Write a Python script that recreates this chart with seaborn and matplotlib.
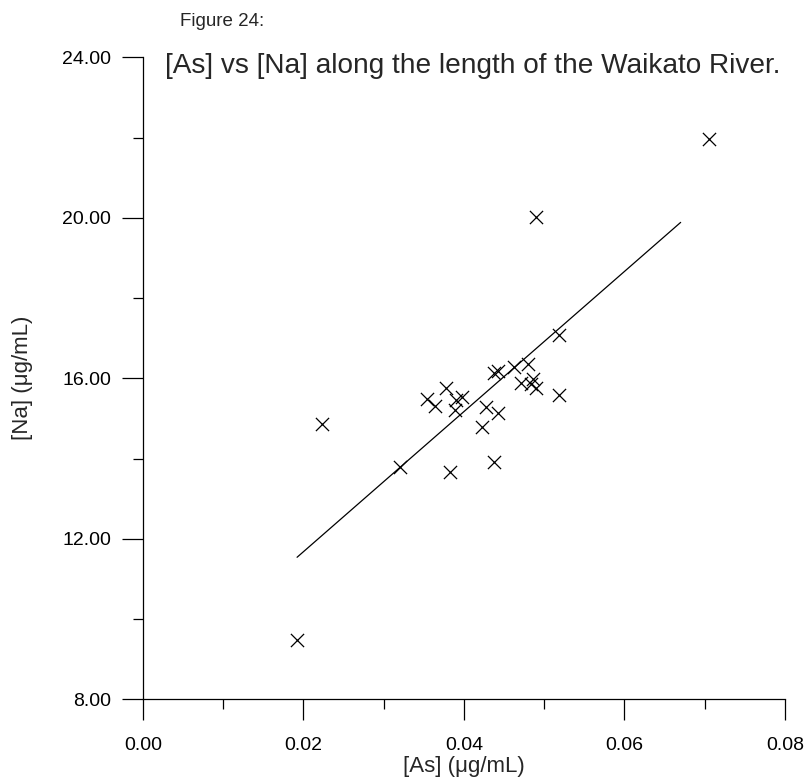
import matplotlib
matplotlib.use("Agg")
import matplotlib.pyplot as plt
from matplotlib.ticker import MultipleLocator, FormatStrFormatter
import numpy as np
import pandas as pd
import seaborn as sns

# Arsenic and sodium concentrations (µg/mL) at sampling sites along the river
arsenic = [0.0192, 0.0223, 0.0320, 0.0354, 0.0364, 0.0378, 0.0383, 0.0389,
           0.0390, 0.0398, 0.0422, 0.0427, 0.0437, 0.0437, 0.0442, 0.0442,
           0.0462, 0.0471, 0.0480, 0.0483, 0.0486, 0.0490, 0.0490, 0.0519,
           0.0519, 0.0705]
sodium = [9.48, 14.86, 13.80, 15.48, 15.31, 15.77, 13.66, 15.20,
          15.45, 15.53, 14.78, 15.28, 13.91, 16.13, 15.13, 16.19,
          16.28, 15.88, 16.36, 15.86, 15.98, 15.75, 20.03, 17.08,
          15.59, 21.96]

# [As] range over which the least-squares trend line is shown
trend_range = [0.0192, 0.0670]

x_ticks = [0.00, 0.02, 0.04, 0.06, 0.08]
y_ticks = [8.00, 12.00, 16.00, 20.00, 24.00]

df = pd.DataFrame({"As": arsenic, "Na": sodium})

slope, intercept = np.polyfit(df["As"], df["Na"], 1)
trend = pd.DataFrame({"As": trend_range})
trend["Na"] = intercept + slope * trend["As"]

sns.set_style("ticks")
plt.rcParams["font.family"] = ["Liberation Sans", "DejaVu Sans"]

fig = plt.figure(figsize=(8.07, 7.80), dpi=100)
ax = fig.add_axes([0.1772, 0.1035, 0.7955, 0.823])

sns.scatterplot(data=df, x="As", y="Na", ax=ax, marker="x", s=90,
                color="black", linewidth=0.9)
sns.lineplot(data=trend, x="As", y="Na", ax=ax, color="black",
             linewidth=0.9)

ax.set_xlim(x_ticks[0], x_ticks[-1])
ax.set_ylim(y_ticks[0], y_ticks[-1])
ax.set_xticks(x_ticks)
ax.set_yticks(y_ticks)
ax.xaxis.set_major_formatter(FormatStrFormatter("%.2f"))
ax.yaxis.set_major_formatter(FormatStrFormatter("%.2f"))
ax.xaxis.set_minor_locator(MultipleLocator(0.01))
ax.yaxis.set_minor_locator(MultipleLocator(2))

ax.tick_params(axis="both", which="major", length=15, width=0.9,
               color="black", labelsize=14, labelcolor="black")
ax.tick_params(axis="both", which="minor", length=7.5, width=0.9,
               color="black")
ax.tick_params(axis="x", which="major", pad=12)
ax.tick_params(axis="y", which="major", pad=8)

for side in ("top", "right"):
    ax.spines[side].set_visible(False)
for side in ("left", "bottom"):
    ax.spines[side].set_linewidth(0.9)
    ax.spines[side].set_color("black")

ax.set_xlabel("[As] (\u03bcg/mL)", fontsize=16)
ax.set_ylabel("[Na] (\u03bcg/mL)", fontsize=16)
ax.xaxis.set_label_coords(0.5, -0.088)
ax.yaxis.set_label_coords(-0.172, 0.5)

fig.text(0.223, 0.9718, "Figure 24:", fontsize=13.5, va="center", ha="left")
fig.text(0.204, 0.9154, "[As] vs [Na] along the length of the Waikato River.",
         fontsize=20.2, va="center", ha="left")

fig.savefig("out.png", dpi=100, facecolor="white")
